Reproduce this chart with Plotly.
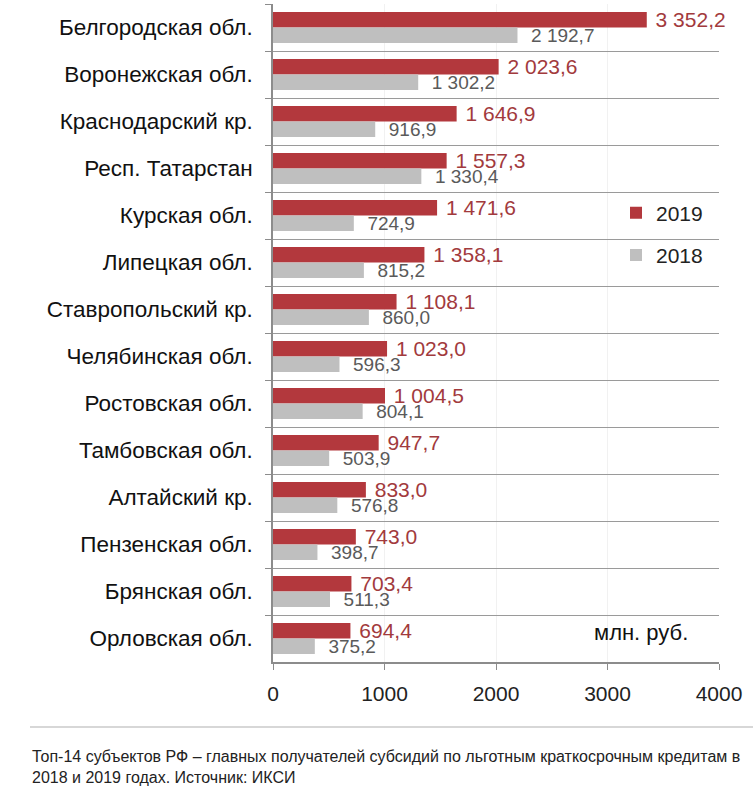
import plotly.graph_objects as go

regions = ["Белгородская обл.", "Воронежская обл.", "Краснодарский кр.", "Респ. Татарстан",
           "Курская обл.", "Липецкая обл.", "Ставропольский кр.", "Челябинская обл.",
           "Ростовская обл.", "Тамбовская обл.", "Алтайский кр.", "Пензенская обл.",
           "Брянская обл.", "Орловская обл."]
v2019 = [3352.2, 2023.6, 1646.9, 1557.3, 1471.6, 1358.1, 1108.1, 1023.0,
         1004.5, 947.7, 833.0, 743.0, 703.4, 694.4]
v2018 = [2192.7, 1302.2, 916.9, 1330.4, 724.9, 815.2, 860.0, 596.3,
         804.1, 503.9, 576.8, 398.7, 511.3, 375.2]
x_ticks = [0, 1000, 2000, 3000, 4000]
unit_label = "млн. руб."
caption = ("Топ-14 субъектов РФ – главных получателей субсидий по льготным краткосрочным кредитам в<br>"
           "2018 и 2019 годах. Источник: ИКСИ")

RED = "#B3383D"
GRAY = "#BFBFBF"
FONT = "Liberation Sans, Arial, sans-serif"

W, H = 753, 805
ML, MR, MT, MB = 273, 34, 4, 143
plot_w = W - ML - MR
plot_h = H - MT - MB


def px_x(px):
    return (px - ML) / plot_w


def px_y(py):
    return (H - MB - py) / plot_h


fig = go.Figure()
fig.add_trace(go.Bar(
    y=regions, x=v2019, name="2019", orientation="h",
    marker=dict(color=RED, line=dict(width=0)),
    texttemplate="\u00a0%{x:,.1f}", textposition="outside",
    textfont=dict(color="#A23A3D", size=21, family=FONT),
    cliponaxis=False, constraintext="none", legendgroup="a",
))
fig.add_trace(go.Bar(
    y=regions, x=v2018, name="2018", orientation="h",
    marker=dict(color=GRAY, line=dict(width=0)),
    texttemplate="\u00a0\u00a0%{x:,.1f}", textposition="outside",
    textfont=dict(color="#5A5A5A", size=19, family=FONT),
    cliponaxis=False, constraintext="none", legendgroup="b",
))

fig.update_layout(
    width=W, height=H,
    margin=dict(l=ML, r=MR, t=MT, b=MB),
    paper_bgcolor="white", plot_bgcolor="white",
    separators=", ",
    barmode="group", bargap=0.34, bargroupgap=0.0,
    font=dict(family=FONT, color="#222222"),
    showlegend=True,
    legend=dict(x=px_x(616), y=px_y(234), xanchor="left", yanchor="middle",
                font=dict(size=21, color="#222222"), bgcolor="rgba(0,0,0,0)",
                traceorder="grouped", tracegroupgap=12, itemwidth=30),
    xaxis=dict(range=[0, 4000], tickvals=x_ticks, ticktext=[str(t) for t in x_ticks],
               showgrid=True, gridcolor="#F1F1F1", zeroline=False,
               showline=True, linecolor="#8C8C8C", linewidth=1.5,
               ticks="outside", ticklen=6, tickcolor="#8C8C8C",
               tickfont=dict(size=21, color="#222222"), ticklabelstandoff=6),
    yaxis=dict(type="category", autorange="reversed", tickson="boundaries",
               showgrid=True, gridcolor="#9A9A9A", gridwidth=1.3,
               showline=True, linecolor="#8C8C8C", linewidth=1.5,
               ticks="outside", ticklen=6, tickcolor="#8C8C8C",
               tickfont=dict(size=22.5, color="#111111"),
               ticklabelstandoff=14),
    annotations=[
        dict(text=unit_label, x=px_x(690), y=px_y(632), xref="paper", yref="paper",
             xanchor="right", yanchor="middle", showarrow=False,
             font=dict(size=22, color="#111111")),
        dict(text=caption, x=px_x(30), y=px_y(746), xref="paper", yref="paper",
             xanchor="left", yanchor="top", align="left", showarrow=False,
             font=dict(size=16, color="#222222")),
    ],
)
fig.add_shape(type="line", xref="paper", yref="paper",
              x0=px_x(30), x1=px_x(753), y0=px_y(727), y1=px_y(727),
              line=dict(color="#B0B0B0", width=1.2))

fig.write_html("out.html", config={"displayModeBar": False},
               post_script="document.body.style.margin='0';")
